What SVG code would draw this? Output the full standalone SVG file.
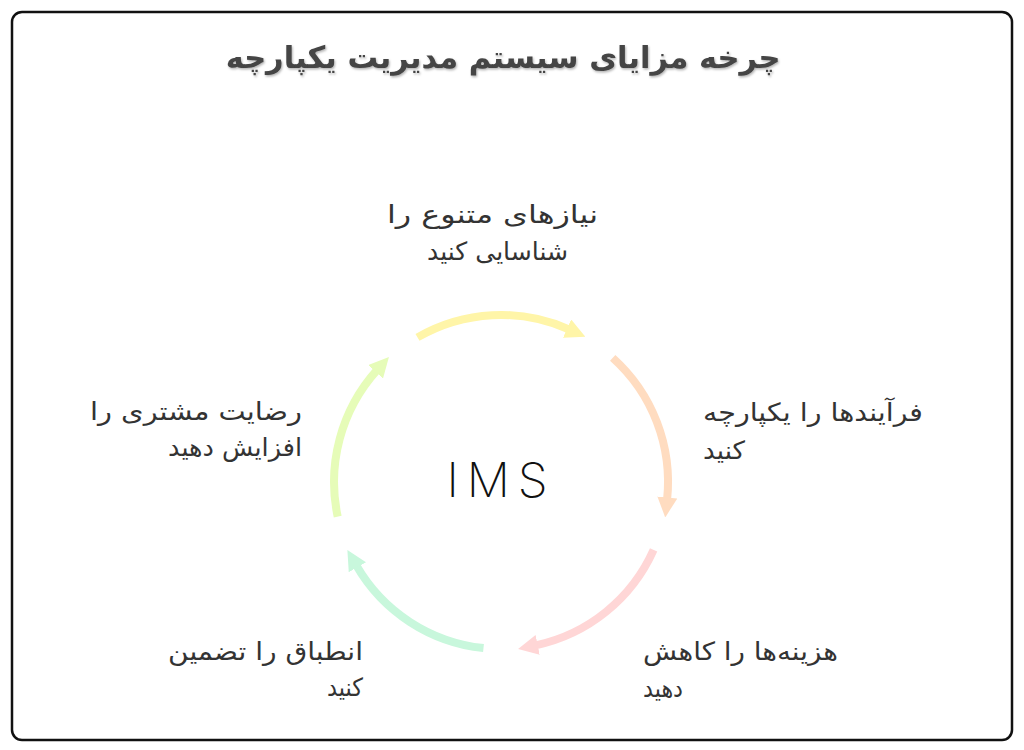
<svg xmlns="http://www.w3.org/2000/svg" width="1024" height="750" viewBox="0 0 1024 750">
<style>
.frame{fill:#fff;stroke:#111;stroke-width:2.5}
.title{font-family:"DejaVu Sans",sans-serif;font-size:30.5px;font-weight:bold;fill:#444}
.lbl{font-family:"DejaVu Sans",sans-serif;font-size:25px;fill:#333}
.arc{fill:none;stroke-width:8}
.ims{font-family:Inter,"DejaVu Sans",sans-serif;font-size:48px;font-weight:200;fill:#111;letter-spacing:8px}
</style>
<defs>
<filter id="sh" x="-5%" y="-20%" width="110%" height="150%">
<feDropShadow dx="1" dy="1.5" stdDeviation="1" flood-color="#000" flood-opacity="0.3"/>
</filter>
<marker id="mY" markerUnits="userSpaceOnUse" viewBox="0 0 20 20" markerWidth="20" markerHeight="20" refX="2" refY="10" orient="auto"><path d="M0,0 L20,10 L0,20 z" fill="#fff5a8"/></marker>
<marker id="mO" markerUnits="userSpaceOnUse" viewBox="0 0 20 20" markerWidth="20" markerHeight="20" refX="2" refY="10" orient="auto"><path d="M0,0 L20,10 L0,20 z" fill="#ffdcc0"/></marker>
<marker id="mP" markerUnits="userSpaceOnUse" viewBox="0 0 20 20" markerWidth="20" markerHeight="20" refX="2" refY="10" orient="auto"><path d="M0,0 L20,10 L0,20 z" fill="#ffd6d6"/></marker>
<marker id="mG" markerUnits="userSpaceOnUse" viewBox="0 0 20 20" markerWidth="20" markerHeight="20" refX="2" refY="10" orient="auto"><path d="M0,0 L20,10 L0,20 z" fill="#c8f7dc"/></marker>
<marker id="mL" markerUnits="userSpaceOnUse" viewBox="0 0 20 20" markerWidth="20" markerHeight="20" refX="2" refY="10" orient="auto"><path d="M0,0 L20,10 L0,20 z" fill="#e6fcb8"/></marker>
</defs>
<rect class="frame" x="12" y="12" width="1000" height="728" rx="10"/>
<text class="title" x="503" y="68" text-anchor="middle" filter="url(#sh)">چرخه مزایای سیستم مدیریت یکپارچه</text>

<g id="connectors">
<path class="arc" stroke="#fff5a8" marker-end="url(#mY)" d="M417.5,337.4 A167,167 0 0 1 568.9,329.4"/>
<path class="arc" stroke="#ffdcc0" marker-end="url(#mO)" d="M612.7,357.9 A167,167 0 0 1 667.1,499.5"/>
<path class="arc" stroke="#ffd6d6" marker-end="url(#mP)" d="M653.6,549.9 A167,167 0 0 1 535.7,645.3"/>
<path class="arc" stroke="#c8f7dc" marker-end="url(#mG)" d="M483.5,648.1 A167,167 0 0 1 356.4,565.5"/>
<path class="arc" stroke="#e6fcb8" marker-end="url(#mL)" d="M337.7,516.7 A167,167 0 0 1 376.9,370.3"/>
</g>

<g id="center">
<text class="ims" x="501" y="497" text-anchor="middle">IMS</text>
</g>
<g id="node1">
<text class="lbl" x="492.5" y="223" text-anchor="middle" textLength="211" lengthAdjust="spacingAndGlyphs">نیازهای متنوع را</text>
<text class="lbl" x="497.5" y="260" text-anchor="middle" textLength="141" lengthAdjust="spacingAndGlyphs">شناسایی کنید</text>
</g>
<g id="node2">
<text class="lbl" x="703" y="421" text-anchor="start" textLength="220" lengthAdjust="spacingAndGlyphs">فرآیندها را یکپارچه</text>
<text class="lbl" x="703" y="459" text-anchor="start" textLength="42" lengthAdjust="spacingAndGlyphs">کنید</text>
</g>
<g id="node3">
<text class="lbl" x="643" y="660" text-anchor="start" textLength="195" lengthAdjust="spacingAndGlyphs">هزینه‌ها را کاهش</text>
<text class="lbl" x="643" y="697" text-anchor="start" textLength="40" lengthAdjust="spacingAndGlyphs">دهید</text>
</g>
<g id="node4">
<text class="lbl" x="363" y="660" text-anchor="end" textLength="195" lengthAdjust="spacingAndGlyphs">انطباق را تضمین</text>
<text class="lbl" x="363" y="696" text-anchor="end" textLength="36" lengthAdjust="spacingAndGlyphs">کنید</text>
</g>
<g id="node5">
<text class="lbl" x="302" y="420" text-anchor="end" textLength="212" lengthAdjust="spacingAndGlyphs">رضایت مشتری را</text>
<text class="lbl" x="302" y="456" text-anchor="end" textLength="134" lengthAdjust="spacingAndGlyphs">افزایش دهید</text>
</g>
</svg>
